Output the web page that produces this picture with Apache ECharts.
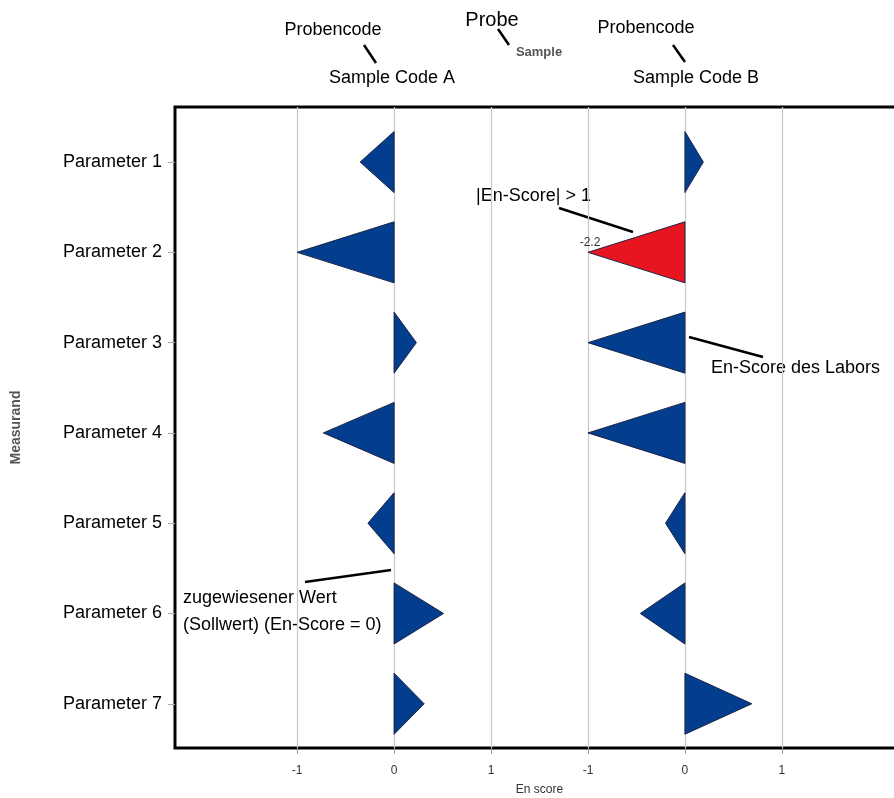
<!DOCTYPE html>
<html><head><meta charset="utf-8">
<script src="https://cdn.jsdelivr.net/npm/echarts@6/dist/echarts.min.js"></script>
<style>html,body{margin:0;padding:0;background:#fff;overflow:hidden}#c{width:894px;height:798px}</style>
</head><body><div id="c"></div>
<script>
// ---- data ----
const parameters = ['Parameter 1','Parameter 2','Parameter 3','Parameter 4','Parameter 5','Parameter 6','Parameter 7'];
const rowValues = [1, 2, 3, 4, 5, 6, 7];
const sampleA = [-0.35, -1.0, 0.23, -0.73, -0.27, 0.51, 0.31];
const sampleB = [0.19, -2.2, -1.0, -1.0, -0.2, -0.46, 0.69];
const sampleAOffset = 0;
const sampleBOffset = 3;
const xTickValues = [-1, 0, 1, 2, 3, 4];
const xTickLabels = ['-1', '0', '1', '-1', '0', '1'];

// ---- style ----
const FONT = "'Liberation Sans', Arial, sans-serif";
const BLUE = '#023d8e';
const RED = '#e8141f';
const HALF = 0.338;

function makeRender(offset) {
  return function (params, api) {
    const v = api.value(0), row = api.value(1);
    const shown = Math.max(-1, Math.min(1, v));
    const out = Math.abs(v) > 1;
    const top = api.coord([offset, row - HALF]);
    const bot = api.coord([offset, row + HALF]);
    const apex = api.coord([offset + shown, row]);
    const children = [{
      type: 'polygon',
      shape: { points: [top, bot, apex] },
      style: { fill: out ? RED : BLUE, stroke: '#1c2444', lineWidth: 1 }
    }];
    if (out) {
      children.push({
        type: 'text', x: apex[0] + 2, y: apex[1] - 10,
        style: { text: String(v), fill: '#333', font: '12px ' + FONT, align: 'center', verticalAlign: 'middle' }
      });
    }
    return { type: 'group', children: children };
  };
}

const chart = echarts.init(document.getElementById('c'), null, { renderer: 'canvas' });

function txt(x, y, text, size, align, color, weight) {
  return { type: 'text', x: x, y: y, style: { text: text, font: (weight ? weight + ' ' : '') + size + 'px ' + FONT, fill: color || '#000', align: align || 'center', verticalAlign: 'middle' } };
}
function ln(x1, y1, x2, y2) {
  return { type: 'line', shape: { x1: x1, y1: y1, x2: x2, y2: y2 }, style: { stroke: '#000', lineWidth: 2.5 } };
}

chart.setOption({
  animation: false,
  backgroundColor: '#fff',
  grid: { left: 175, top: 107, width: 729, height: 641, outerBoundsMode: 'none', containLabel: false,
          show: true, borderColor: '#000', borderWidth: 3, backgroundColor: 'transparent' },
  xAxis: {
    type: 'value', min: -2.26, max: 5.26,
    name: 'En score', nameLocation: 'middle', nameGap: 36,
    nameTextStyle: { fontFamily: FONT, fontSize: 12, color: '#333' },
    axisLine: { show: false, onZero: false },
    axisTick: { show: true, length: 6, lineStyle: { color: '#999' }, customValues: xTickValues },
    axisLabel: {
      customValues: xTickValues, margin: 17, fontFamily: FONT, fontSize: 12, color: '#333',
      formatter: function (v) { return xTickLabels[xTickValues.indexOf(Math.round(v))]; }
    },
    splitLine: { show: true, lineStyle: { color: '#c8c8c8', width: 1.2 } }
  },
  yAxis: {
    type: 'value', inverse: true, min: 0.39, max: 7.49,
    name: 'Measurand', nameLocation: 'middle', nameRotate: 90, nameGap: 152,
    nameTextStyle: { fontFamily: FONT, fontSize: 14, color: '#555', fontWeight: 'bold' },
    axisLine: { show: false, onZero: false },
    axisTick: { show: true, length: 7, lineStyle: { color: '#aaa' }, customValues: rowValues },
    axisLabel: {
      customValues: rowValues, margin: 13, fontFamily: FONT, fontSize: 18, color: '#000',
      formatter: function (v) { return parameters[Math.round(v) - 1]; }
    },
    splitLine: { show: false }
  },
  series: [
    {
      type: 'custom', name: 'Sample Code A', renderItem: makeRender(sampleAOffset),
      encode: { x: 0, y: 1 }, clip: false,
      data: sampleA.map(function (v, i) { return [v, rowValues[i]]; })
    },
    {
      type: 'custom', name: 'Sample Code B', renderItem: makeRender(sampleBOffset),
      encode: { x: 0, y: 1 }, clip: false,
      data: sampleB.map(function (v, i) { return [v, rowValues[i]]; })
    }
  ],
  graphic: [
    txt(333, 30, 'Probencode', 18),
    ln(364, 45, 376, 63),
    txt(392, 78, 'Sample Code A', 18),
    txt(492, 20, 'Probe', 20),
    ln(498, 29, 509, 45),
    txt(539, 52, 'Sample', 13, 'center', '#555', 'bold'),
    txt(646, 28, 'Probencode', 18),
    ln(673, 45, 685, 62),
    txt(696, 78, 'Sample Code B', 18),
    txt(591, 196, '|En-Score| > 1', 18, 'right'),
    ln(559, 208, 633, 232),
    txt(711, 368, 'En-Score des Labors', 18, 'left'),
    ln(689, 337, 763, 357),
    txt(183, 598, 'zugewiesener Wert', 18, 'left'),
    txt(183, 625, '(Sollwert) (En-Score = 0)', 18, 'left'),
    ln(305, 582, 391, 570)
  ]
});
</script>
</body></html>
